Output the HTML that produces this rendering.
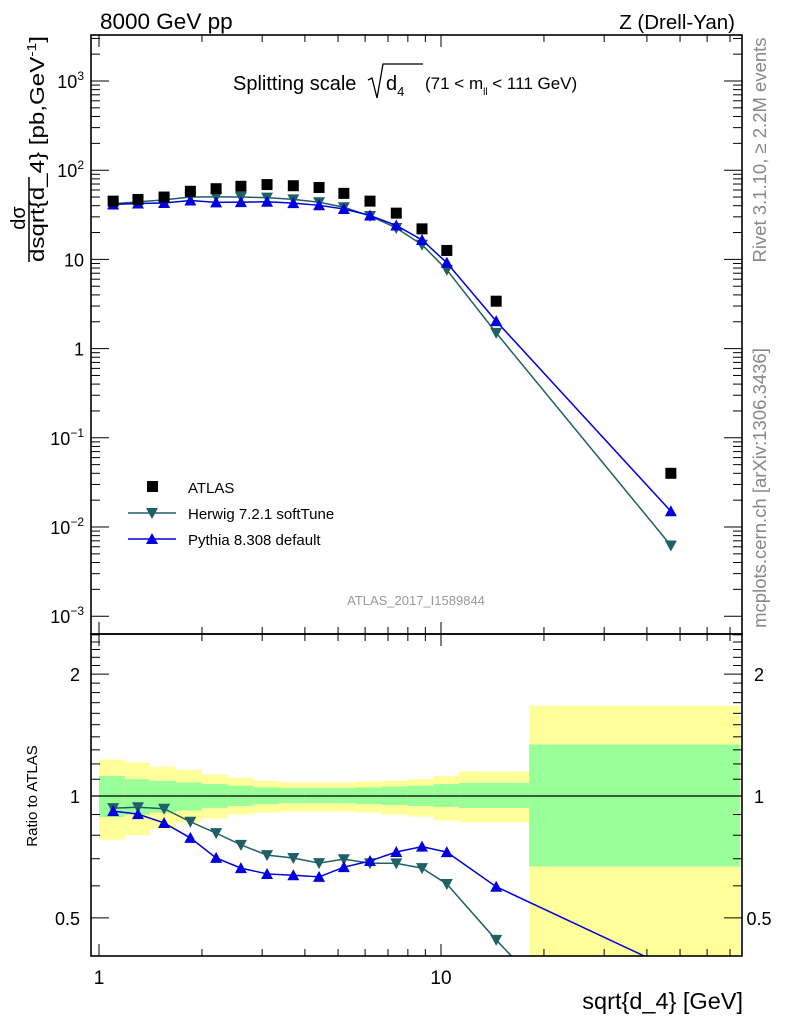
<!DOCTYPE html>
<html><head><meta charset="utf-8"><style>
html,body{margin:0;padding:0;background:#fff;overflow:hidden;width:786px;height:1024px;}
svg{display:block;font-family:"Liberation Sans",sans-serif;}
</style></head><body>
<svg id="c" width="786" height="1024" viewBox="0 0 786 1024" xmlns="http://www.w3.org/2000/svg">
<g id="bands"></g>
<g id="marks"></g>
<g id="axes"></g>
<text x="100" y="29" font-size="22.5">8000 GeV pp</text>
<text x="735" y="29" font-size="20.5" text-anchor="end">Z (Drell-Yan)</text>
<g>
<text x="233" y="90" font-size="20">Splitting scale</text>
<path d="M368,80 L372,78 L377,98 L383,64 L423,64" fill="none" stroke="#000" stroke-width="1.3"/>
<text x="386" y="90" font-size="20">d<tspan font-size="13" dy="6">4</tspan></text>
<text x="425" y="89" font-size="17">(71 &lt; m<tspan font-size="10" dy="6">ll</tspan><tspan dy="-6"> &lt; 111 GeV)</tspan></text>
</g>
<text transform="translate(766,150) rotate(-90)" font-size="18.5" fill="#888" text-anchor="middle">Rivet 3.1.10, ≥ 2.2M events</text>
<text transform="translate(766,488) rotate(-90)" font-size="18.5" fill="#888" text-anchor="middle">mcplots.cern.ch [arXiv:1306.3436]</text>
<text x="416" y="605" font-size="13" fill="#999" text-anchor="middle">ATLAS_2017_I1589844</text>
<g>
<text transform="translate(25,218) rotate(-90)" font-size="20" text-anchor="middle">dσ</text>
<line x1="29" y1="177" x2="29" y2="262" stroke="#000" stroke-width="1.5"/>
<text transform="translate(44,262) rotate(-90)" font-size="20" textLength="226" lengthAdjust="spacingAndGlyphs">dsqrt{d_4} [pb,GeV<tspan font-size="13" dy="-8">-1</tspan><tspan dy="8">]</tspan></text>
</g>
<text transform="translate(37,796) rotate(-90)" font-size="15" text-anchor="middle">Ratio to ATLAS</text>
<text x="743" y="1009" font-size="23.5" text-anchor="end">sqrt{d_4} [GeV]</text>
<g>
<g><rect x="147" y="481" width="11" height="11" fill="#000"/><text x="188" y="493" font-size="15">ATLAS</text></g>
<g><line x1="128" y1="513" x2="176" y2="513" stroke="#1f5f66" stroke-width="1.5"/><path d="M146,508 L158,508 L152,519 Z" fill="#1f5f66"/><text x="188" y="519" font-size="15">Herwig 7.2.1 softTune</text></g>
<g><line x1="128" y1="539" x2="176" y2="539" stroke="#0000e0" stroke-width="1.5"/><path d="M146,544 L158,544 L152,533 Z" fill="#0000e0"/><text x="188" y="545" font-size="15">Pythia 8.308 default</text></g>
</g>
</svg>
<script>
const xCenters=[1.1,1.3,1.55,1.85,2.2,2.6,3.1,3.7,4.4,5.2,6.2,7.4,8.8,10.4,14.5,47];
const binEdges=[1,1.19,1.41,1.68,2,2.38,2.82,3.36,4,4.75,5.64,6.72,7.99,9.5,11.3,18.1,75];
const atlas=[45,47,50,58,62,66,69,67,64,55,45,33,22,12.6,3.4,0.040];
const herwig=[42.0,44.1,46.5,50.1,50.2,50.0,49.3,47.1,43.7,38.4,30.7,22.5,14.6,7.64,1.50,0.0062];
const pythia=[41.3,42.4,42.9,45.7,43.6,43.8,44.3,42.7,40.4,36.7,31.1,24.0,16.5,9.16,2.03,0.0150];
const yelUp=[1.23,1.21,1.18,1.16,1.13,1.11,1.09,1.08,1.08,1.08,1.085,1.09,1.10,1.12,1.15,1.67];
const yelLo=[0.78,0.80,0.83,0.86,0.88,0.90,0.91,0.915,0.915,0.915,0.91,0.90,0.89,0.87,0.86,0.30];
const grnUp=[1.12,1.10,1.09,1.08,1.07,1.06,1.05,1.046,1.046,1.046,1.05,1.055,1.06,1.07,1.077,1.34];
const grnLo=[0.887,0.90,0.91,0.92,0.935,0.945,0.955,0.96,0.96,0.96,0.955,0.95,0.945,0.94,0.934,0.67];
const mainTicks=["10<tspan font-size='12' dy='-8'>3</tspan>","10<tspan font-size='12' dy='-8'>2</tspan>","10","1","10<tspan font-size='12' dy='-8'>−1</tspan>","10<tspan font-size='12' dy='-8'>−2</tspan>","10<tspan font-size='12' dy='-8'>−3</tspan>"];
const mainTickVals=[1000,100,10,1,0.1,0.01,0.001];
const ratioTickVals=[0.5,1,2];
const ratioTickLabels=["0.5","1","2"];
const xTickVals=[1,10];
const xTickLabels=["1","10"];

const L=91,R=742,T=35,M=634,B=956;
const X=v=>99+342*Math.log10(v);
const Y=v=>81+89.2*(3-Math.log10(v));
const YR=v=>796-405*Math.log10(v);
const NS="http://www.w3.org/2000/svg";
function mk(tag,attrs,parent){const e=document.createElementNS(NS,tag);for(const k in attrs)e.setAttribute(k,attrs[k]);parent.appendChild(e);return e;}
const bands=document.getElementById('bands'),marks=document.getElementById('marks'),axes=document.getElementById('axes');
const clamp=(y,a,b)=>Math.max(a,Math.min(b,y));
for(let i=0;i<xCenters.length;i++){
  const x1=X(binEdges[i]),x2=Math.min(X(binEdges[i+1]),R);
  const yt=clamp(YR(yelUp[i]),M,B),ybt=clamp(YR(yelLo[i]),M,B);
  const yb=mk('rect',{x:x1,y:yt,width:x2-x1,height:ybt-yt,fill:'#ffff99'},bands);
  
  
  const gt=clamp(YR(grnUp[i]),M,B),gbt=clamp(YR(grnLo[i]),M,B);
  const gb=mk('rect',{x:x1,y:gt,width:x2-x1,height:gbt-gt,fill:'#99ff99'},bands);
  
  
}
mk('line',{x1:L,y1:YR(1),x2:R,y2:YR(1),stroke:'#000','stroke-width':1.3},bands);
const cm=mk('clipPath',{id:'cm'},marks);mk('rect',{x:L,y:T,width:R-L,height:M-T},cm);
const cr=mk('clipPath',{id:'cr'},marks);mk('rect',{x:L,y:M,width:R-L,height:B-M},cr);
function series(vals,col,down,name){
  const gm=mk('g',{'clip-path':'url(#cm)'},marks);
  
  
  const gr=mk('g',{'clip-path':'url(#cr)'},marks);
  
  
  mk('polyline',{points:vals.map((v,i)=>X(xCenters[i])+','+Y(v)).join(' '),fill:'none',stroke:col,'stroke-width':1.5},gm);
  mk('polyline',{points:vals.map((v,i)=>X(xCenters[i])+','+YR(v/atlas[i])).join(' '),fill:'none',stroke:col,'stroke-width':1.5},gr);
  vals.forEach((v,i)=>{
    [[gm,Y(v)],[gr,YR(v/atlas[i])]].forEach(([g,y])=>{
      const x=X(xCenters[i]);
      const d=down?`M${x-6},${y-5} L${x+6},${y-5} L${x},${y+6} Z`:`M${x-6},${y+5} L${x+6},${y+5} L${x},${y-6} Z`;
      const p=mk('path',{d:d,fill:col},g);
      
      
    });
  });
}
series(herwig,'#1f5f66',true,'herwig');
series(pythia,'#0000e0',false,'pythia');
atlas.forEach((v,i)=>{
  const r=mk('rect',{x:X(xCenters[i])-5.5,y:Y(v)-5.5,width:11,height:11,fill:'#000'},marks);
  
  
});
mk('rect',{x:L,y:T,width:R-L,height:M-T,fill:'none',stroke:'#000','stroke-width':1.6},axes);
mk('rect',{x:L,y:M,width:R-L,height:B-M,fill:'none',stroke:'#000','stroke-width':1.6},axes);
for(let d=0;d<2;d++)for(let k=1;k<10;k++){const v=k*Math.pow(10,d);if(v>75)break;const x=X(v);const len=k==1?12:7;
  [[T,1],[M,1],[M,-1],[B,-1]].forEach(([y0,s])=>{mk('line',{x1:x,y1:y0,x2:x,y2:y0+s*len,stroke:'#000'},axes);});}
xTickVals.forEach((v,i)=>{const t=mk('text',{x:X(v),y:984,'font-size':19,'text-anchor':'middle'},axes);t.textContent=xTickLabels[i];
  
  });
for(let e=-3;e<=3;e++)for(let k=1;k<10;k++){const v=k*Math.pow(10,e);const y=Y(v);if(y<T)continue;const len=k==1?18:9;
  mk('line',{x1:L,y1:y,x2:L+len,y2:y,stroke:'#000'},axes);mk('line',{x1:R,y1:y,x2:R-len,y2:y,stroke:'#000'},axes);}
mainTickVals.forEach((v,i)=>{const t=mk('text',{x:84,y:Y(v)+7,'font-size':18,'text-anchor':'end'},axes);t.innerHTML=mainTicks[i];
  
  });
for(let v=0.5;v<=2.5;v=Math.round((v+0.1)*10)/10){const y=YR(v);if(y<M)continue;const maj=(v===0.5||v===1||v===2);const len=maj?18:9;
  mk('line',{x1:L,y1:y,x2:L+len,y2:y,stroke:'#000'},axes);mk('line',{x1:R,y1:y,x2:R-len,y2:y,stroke:'#000'},axes);}
ratioTickVals.forEach((v,i)=>{
  const t=mk('text',{x:80,y:YR(v)+7,'font-size':18,'text-anchor':'end'},axes);t.textContent=ratioTickLabels[i];
  
  
  const t2=mk('text',{x:759,y:YR(v)+7,'font-size':18,'text-anchor':'middle'},axes);t2.textContent=ratioTickLabels[i];
  
  
});
</script>
</body></html>
